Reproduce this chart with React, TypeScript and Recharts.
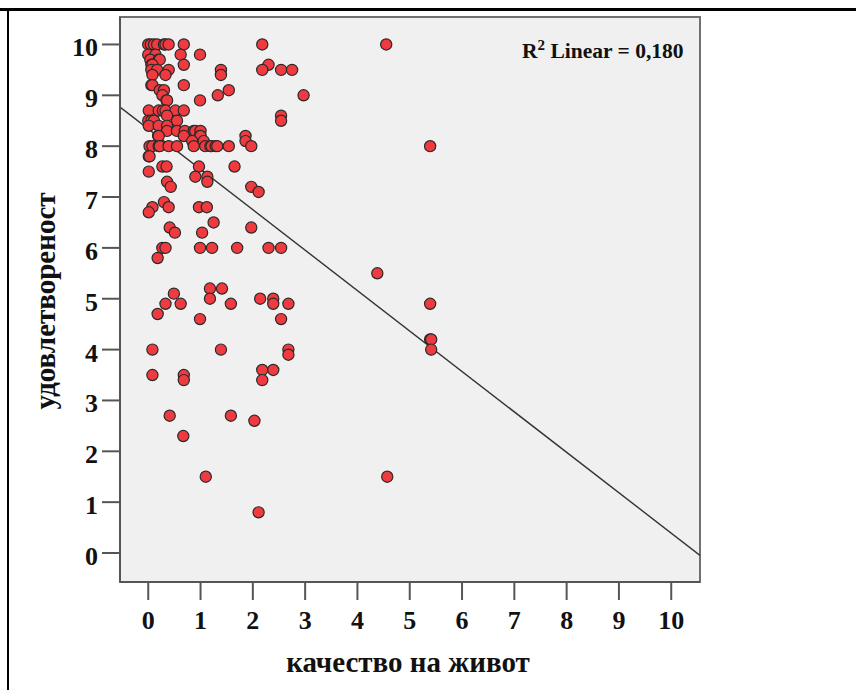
import { ScatterChart, Scatter, XAxis, YAxis, ReferenceArea, ReferenceLine } from 'recharts';

// satisfaction level (y) and the quality-of-life scores (x) observed at that level
const satisfactionLevels = [
  10, 9.8, 9.7, 9.6, 9.5, 9.4, 9.2, 9.1, 9.0, 8.9, 8.7, 8.6, 8.5, 8.4, 8.3, 8.2, 8.1, 8.0,
  7.8, 7.6, 7.5, 7.4, 7.3, 7.2, 7.1, 6.9, 6.8, 6.7, 6.5, 6.4, 6.3, 6.0, 5.8, 5.5, 5.2, 5.1,
  5.0, 4.9, 4.7, 4.6, 4.2, 4.0, 3.9, 3.6, 3.5, 3.4, 2.7, 2.6, 2.3, 1.5, 0.8,
];

const qualityByLevel = [
  [0, 0.05, 0.11, 0.17, 0.3, 0.33, 0.39, 0.68, 2.18, 4.55],
  [0, 0.14, 0.62, 0.99],
  [0.04, 0.2, 0.22],
  [0.06, 0.08, 0.68, 2.3],
  [0.06, 0.17, 0.39, 1.39, 2.18, 2.54, 2.75],
  [0.08, 0.33, 1.39],
  [0.06, 0.08, 0.68],
  [0.22, 0.3, 1.54],
  [0.27, 1.33, 2.97],
  [0.35, 0.36, 0.99],
  [0.01, 0.2, 0.28, 0.33, 0.52, 0.68],
  [0.36, 2.54],
  [0, 0.06, 0.11, 0.55, 2.54],
  [0.01, 0.2, 0.36],
  [0.36, 0.55, 0.7, 0.87, 0.9, 1.0],
  [0.19, 0.2, 0.68, 0.99, 1.0, 1.86],
  [0.84, 1.06, 1.86],
  [0.025, 0.08, 0.2, 0.22, 0.39, 0.55, 0.87, 1.09, 1.19, 1.21, 1.29, 1.32, 1.54, 1.97, 5.39],
  [0.01, 0.025],
  [0.27, 0.35, 0.97, 1.65],
  [0.01],
  [0.9, 1.13],
  [0.36, 1.13],
  [0.43, 1.97],
  [2.11],
  [0.3],
  [0.08, 0.39, 0.97, 1.12],
  [0.01],
  [1.25],
  [0.41, 1.97],
  [0.51, 1.03],
  [0.27, 0.33, 0.99, 1.22, 1.7, 2.3, 2.54],
  [0.18],
  [4.38],
  [1.18, 1.41],
  [0.49],
  [1.18, 2.14, 2.39],
  [0.33, 0.62, 1.58, 2.39, 2.68, 5.39],
  [0.18],
  [0.99, 2.54],
  [5.39, 5.41],
  [0.08, 1.39, 2.68, 5.41],
  [2.68],
  [2.18, 2.39],
  [0.08, 0.68],
  [0.68, 2.18],
  [0.41, 1.58],
  [2.03],
  [0.67],
  [1.1, 4.57],
  [2.11],
];

const xTicks = [0, 1, 2, 3, 4, 5, 6, 7, 8, 9, 10];
const yTicks = [0, 1, 2, 3, 4, 5, 6, 7, 8, 9, 10];

const xDomain: [number, number] = [-0.54, 10.55];
const yDomain: [number, number] = [-0.57, 10.54];

// fitted linear regression (R² = 0.180)
const fitIntercept = 8.34;
const fitSlope = -0.795;
const rSquared = '0,180';

const data = satisfactionLevels.flatMap((y, i) => qualityByLevel[i].map((x) => ({ x, y })));

const fitLine = [
  { x: xDomain[0], y: fitIntercept + fitSlope * xDomain[0] },
  { x: xDomain[1], y: fitIntercept + fitSlope * xDomain[1] },
];

const FONT = "'Liberation Serif', 'Times New Roman', serif";

const XTick = ({ x, y, payload }: any) => (
  <text x={x} y={y + 29} textAnchor="middle" fontFamily={FONT} fontWeight="bold" fontSize={26} fill="#111">
    {payload.value}
  </text>
);

const YTick = ({ x, y, payload }: any) => (
  <text x={x} y={y + 12} textAnchor="end" fontFamily={FONT} fontWeight="bold" fontSize={26} fill="#111">
    {payload.value}
  </text>
);

const Dot = ({ cx, cy }: any) => (
  <circle cx={cx} cy={cy} r={5.6} fill="#ef3a40" stroke="#2a2a2a" strokeWidth={1.2} />
);

export default function App() {
  return (
    <div style={{ position: 'absolute', left: 0, top: 0, width: 856, height: 690, background: '#fff', fontFamily: FONT, overflow: 'hidden' }}>
      <div style={{ position: 'absolute', left: 0, top: 8, width: 856, height: 3, background: '#000' }} />
      <div style={{ position: 'absolute', left: 7, top: 8, width: 2, height: 682, background: '#000' }} />
      <div style={{ position: 'absolute', left: 0, top: 0 }}>
        <ScatterChart width={856} height={690} margin={{ top: 17, right: 156, bottom: 48, left: 0 }}>
          <ReferenceArea
            x1={xDomain[0]}
            x2={xDomain[1]}
            y1={yDomain[0]}
            y2={yDomain[1]}
            fill="#f0f0f0"
            fillOpacity={1}
            stroke="#707070"
            strokeWidth={2}
            ifOverflow="visible"
          />
          <XAxis
            type="number"
            dataKey="x"
            domain={xDomain}
            ticks={xTicks}
            allowDataOverflow
            height={60}
            tickSize={18}
            tickMargin={0}
            axisLine={{ stroke: '#555', strokeWidth: 2 }}
            tickLine={{ stroke: '#555', strokeWidth: 2 }}
            tick={<XTick />}
          />
          <YAxis
            type="number"
            dataKey="y"
            domain={yDomain}
            ticks={yTicks}
            allowDataOverflow
            width={120}
            tickSize={18}
            tickMargin={4}
            axisLine={{ stroke: '#555', strokeWidth: 2 }}
            tickLine={{ stroke: '#555', strokeWidth: 2 }}
            tick={<YTick />}
          />
          <ReferenceLine segment={fitLine} stroke="#333" strokeWidth={1.4} ifOverflow="hidden" />
          <Scatter data={data} shape={<Dot />} isAnimationActive={false} />
        </ScatterChart>
      </div>
      <div style={{ position: 'absolute', left: 522, top: 39, fontSize: 21.5, fontWeight: 'bold', color: '#111', whiteSpace: 'nowrap', lineHeight: '24px' }}>
        R<span style={{ fontSize: 15, position: 'relative', top: -8 }}>2</span> Linear = {rSquared}
      </div>
      <div style={{ position: 'absolute', left: 408, top: 662, transform: 'translate(-50%, -50%)', fontSize: 29, fontWeight: 'bold', color: '#111', whiteSpace: 'nowrap', lineHeight: '32px' }}>
        качество на живот
      </div>
      <div style={{ position: 'absolute', left: 45, top: 301, transform: 'translate(-50%, -50%) rotate(-90deg)', fontSize: 29, fontWeight: 'bold', color: '#111', whiteSpace: 'nowrap', lineHeight: '32px' }}>
        удовлетвореност
      </div>
    </div>
  );
}
